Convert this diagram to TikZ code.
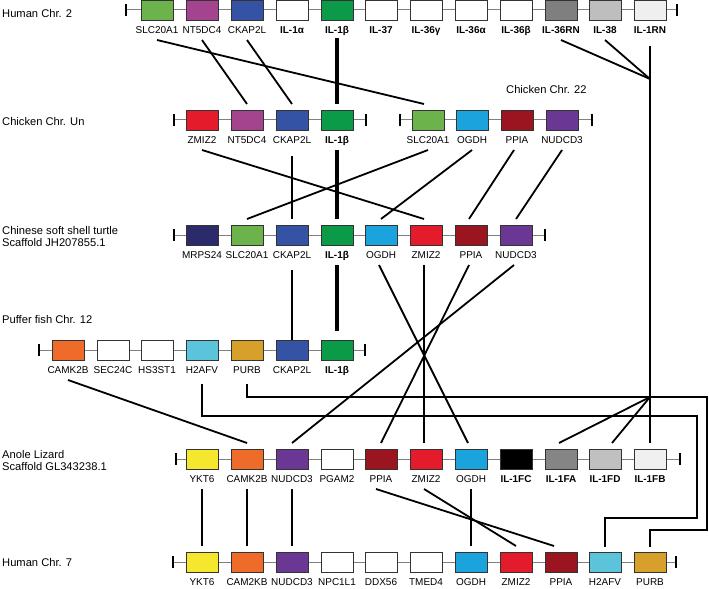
\documentclass[tikz,border=0pt]{standalone}
\usepackage{fontspec}
\setmainfont{Liberation Sans}
\usetikzlibrary{calc}
\definecolor{cslc}{HTML}{6BB34A}
\definecolor{cnt5}{HTML}{A4448E}
\definecolor{cckap}{HTML}{3453A4}
\definecolor{cilb}{HTML}{0A9A48}
\definecolor{crn36}{HTML}{7F7F7F}
\definecolor{cil38}{HTML}{BEBEBE}
\definecolor{crn1}{HTML}{EFEFEF}
\definecolor{czmiz}{HTML}{E31B2B}
\definecolor{cogdh}{HTML}{1BA3DD}
\definecolor{cppia}{HTML}{9B1521}
\definecolor{cnud}{HTML}{6A3795}
\definecolor{cmrps}{HTML}{2B2A6B}
\definecolor{ccamk}{HTML}{EE6B2A}
\definecolor{ch2a}{HTML}{5CC4DA}
\definecolor{cpurb}{HTML}{D6A02A}
\definecolor{cykt}{HTML}{F5E62E}
\definecolor{cfa}{HTML}{858585}
\definecolor{cfd}{HTML}{C0C0C0}
\definecolor{cfb}{HTML}{F0F0F0}
\tikzset{
  gbox/.style={draw=black!80, line width=0.9bp, minimum width=32bp, minimum height=20bp, inner sep=0pt, outer sep=0pt},
  glab/.style={font=\fontsize{10}{12}\selectfont, inner sep=0pt, text height=7pt, text depth=2pt},
  spec/.style={font=\fontsize{11.2}{13}\selectfont, anchor=west, inner sep=0pt, align=left},
  bb/.style={draw=black!50, line width=1bp},
  endbar/.style={draw=black, line width=2bp},
  conn/.style={draw=black, line width=1.8bp},
  ilbline/.style={draw=black, line width=4bp},
}
\newcommand\gn[5]{%
  \node[gbox, fill=#4] (#1) at (#2,#3) {};
  \node[glab] (#1-l) at (#2,#3+21.5) {#5};
  \coordinate (#1-t) at ($(#1.north)+(0,-6)$);
  \coordinate (#1-b) at ($(#1.south)+(0,20)$);
}
\newcommand\chrline[3]{% xl, xr, y
  \draw[bb] (#1,#3) -- (#2,#3);
  \draw[endbar] (#1,#3-6) -- (#1,#3+6);
  \draw[endbar] (#2,#3-6) -- (#2,#3+6);
}
\begin{document}
\begin{tikzpicture}[x=1bp,y=-1bp]
\useasboundingbox (0,0) rectangle (709,589);
% backbones
\chrline{126}{677}{10}
\chrline{174}{366}{120}
\chrline{400}{592}{120}
\chrline{174}{545}{235}
\chrline{39}{365}{350}
\chrline{176}{680}{459}
\chrline{173}{676}{562}
% species labels
\node[spec] (sp1) at (2,14) {Human Chr. 2};
\node[spec] (sp2) at (2,122) {Chicken Chr. Un};
\node[spec] (sp3) at (506,90) {Chicken Chr. 22};
\node[spec] (sp4) at (2,236.5) {Chinese soft shell turtle\\Scaffold JH207855.1};
\node[spec] (sp5) at (2,320) {Puffer fish Chr. 12};
\node[spec] (sp6) at (2,460.5) {Anole Lizard\\Scaffold GL343238.1};
\node[spec] (sp7) at (2,563) {Human Chr. 7};
% Human Chr. 2
\gn{h2slc}{157}{10}{cslc}{SLC20A1}
\gn{h2nt5}{202}{10}{cnt5}{NT5DC4}
\gn{h2ckap}{247}{10}{cckap}{CKAP2L}
\gn{h2ila}{292}{10}{white}{\textbf{IL-1α}}
\gn{h2ilb}{337}{10}{cilb}{\textbf{IL-1β}}
\gn{h2il37}{381}{10}{white}{\textbf{IL-37}}
\gn{h2il36g}{426}{10}{white}{\textbf{IL-36γ}}
\gn{h2il36a}{471}{10}{white}{\textbf{IL-36α}}
\gn{h2il36b}{516}{10}{white}{\textbf{IL-36β}}
\gn{h2il36rn}{561}{10}{crn36}{\textbf{IL-36RN}}
\gn{h2il38}{605}{10}{cil38}{\textbf{IL-38}}
\gn{h2il1rn}{650}{10}{crn1}{\textbf{IL-1RN}}
% Chicken Chr. Un
\gn{cuzmiz}{202}{120}{czmiz}{ZMIZ2}
\gn{cunt5}{247}{120}{cnt5}{NT5DC4}
\gn{cuckap}{292}{120}{cckap}{CKAP2L}
\gn{cuilb}{337}{120}{cilb}{\textbf{IL-1β}}
% Chicken Chr. 22
\gn{ccslc}{428}{120}{cslc}{SLC20A1}
\gn{ccogdh}{472}{120}{cogdh}{OGDH}
\gn{ccppia}{517}{120}{cppia}{PPIA}
\gn{ccnud}{562}{120}{cnud}{NUDCD3}
% Turtle
\gn{tumrps}{202}{235}{cmrps}{MRPS24}
\gn{tuslc}{247}{235}{cslc}{SLC20A1}
\gn{tuckap}{292}{235}{cckap}{CKAP2L}
\gn{tuilb}{337}{235}{cilb}{\textbf{IL-1β}}
\gn{tuogdh}{381}{235}{cogdh}{OGDH}
\gn{tuzmiz}{426}{235}{czmiz}{ZMIZ2}
\gn{tuppia}{471}{235}{cppia}{PPIA}
\gn{tunud}{516}{235}{cnud}{NUDCD3}
% Puffer fish
\gn{pfcamk}{68}{350}{ccamk}{CAMK2B}
\gn{pfsec}{113}{350}{white}{SEC24C}
\gn{pfhs}{157}{350}{white}{HS3ST1}
\gn{pfh2a}{202}{350}{ch2a}{H2AFV}
\gn{pfpurb}{247}{350}{cpurb}{PURB}
\gn{pfckap}{292}{350}{cckap}{CKAP2L}
\gn{pfilb}{337}{350}{cilb}{\textbf{IL-1β}}
% Anole
\gn{anykt}{202}{459}{cykt}{YKT6}
\gn{ancamk}{247}{459}{ccamk}{CAMK2B}
\gn{annud}{292}{459}{cnud}{NUDCD3}
\gn{anpgam}{337}{459}{white}{PGAM2}
\gn{anppia}{381}{459}{cppia}{PPIA}
\gn{anzmiz}{426}{459}{czmiz}{ZMIZ2}
\gn{anogdh}{471}{459}{cogdh}{OGDH}
\gn{anfc}{516}{459}{black}{\textbf{IL-1FC}}
\gn{anfa}{561}{459}{cfa}{\textbf{IL-1FA}}
\gn{anfd}{605}{459}{cfd}{\textbf{IL-1FD}}
\gn{anfb}{650}{459}{cfb}{\textbf{IL-1FB}}
% Human Chr. 7
\gn{hsykt}{202}{562}{cykt}{YKT6}
\gn{hscamk}{247}{562}{ccamk}{CAM2KB}
\gn{hsnud}{292}{562}{cnud}{NUDCD3}
\gn{hsnpc}{337}{562}{white}{NPC1L1}
\gn{hsddx}{381}{562}{white}{DDX56}
\gn{hstmed}{426}{562}{white}{TMED4}
\gn{hsogdh}{471}{562}{cogdh}{OGDH}
\gn{hszmiz}{516}{562}{czmiz}{ZMIZ2}
\gn{hsppia}{561}{562}{cppia}{PPIA}
\gn{hsh2a}{605}{562}{ch2a}{H2AFV}
\gn{hspurb}{650}{562}{cpurb}{PURB}
% junctions and elbows
\coordinate (J1) at (650,79);
\coordinate (J2) at (650,397);
\coordinate (k1) at (697,416);
\coordinate (k2) at (697,518);
\coordinate (k3) at (707,397);
\coordinate (k4) at (707,530);
% Human 2 -> chicken
\draw[conn] (h2slc-b) -- ([xshift=-4bp]ccslc-t);
\draw[conn] (h2nt5-b) -- (cunt5-t);
\draw[conn] (h2ckap-b) -- (cuckap-t);
\draw[ilbline] ([yshift=2bp]h2ilb-b) -- (cuilb-t);
\draw[conn] (h2il36rn-b) -- (J1);
\draw[conn] (h2il38-b) -- (J1);
\draw[conn] ([yshift=-6bp]h2il1rn-b) -- (anfb-t);
\draw[conn] (J2) -- ([xshift=-2bp]anfa-t);
\draw[conn] (J2) -- ([xshift=7bp]anfd-t);
% chicken -> turtle
\draw[conn] (cuzmiz-b) -- ([xshift=-2bp]tuzmiz-t);
\draw[conn] ([yshift=-6bp]cuckap-b) -- (tuckap-t);
\draw[ilbline] (cuilb-b) -- (tuilb-t);
\draw[conn] (ccslc-b) -- (tuslc-t);
\draw[conn] (ccogdh-b) -- (tuogdh-t);
\draw[conn] ([xshift=-3bp]ccppia-b) -- ([xshift=-2bp]tuppia-t);
\draw[conn] (ccnud-b) -- (tunud-t);
% turtle -> puffer / anole
\draw[conn] ([yshift=-5bp]tuckap-b) -- ([yshift=-6bp]pfckap-t);
\draw[ilbline] (tuilb-b) -- ([yshift=3bp]pfilb-t);
\draw[conn] ([xshift=-2bp]tuogdh-b) -- ([xshift=-3bp]anogdh-t);
\draw[conn] ([xshift=-2bp]tuzmiz-b) -- ([xshift=-2bp]anzmiz-t);
\draw[conn] ([xshift=-2bp]tuppia-b) -- (anppia-t);
\draw[conn] ([xshift=-2bp]tunud-b) -- (annud-t);
% puffer -> anole / human 7
\draw[conn] (pfcamk-b) -- (ancamk-t);
\draw[conn] ([yshift=-4bp]pfh2a-b) |- (k1) -- (k2) -| ([yshift=-1bp]hsh2a-t);
\draw[conn] ([yshift=-4bp]pfpurb-b) |- (k3) -- (k4) -| ([yshift=-1bp]hspurb-t);
% anole -> human 7
\draw[conn] (anykt-b) -- (hsykt-t);
\draw[conn] (ancamk-b) -- (hscamk-t);
\draw[conn] (annud-b) -- (hsnud-t);
\draw[conn] (anogdh-b) -- (hsogdh-t);
\draw[conn] ([xshift=-5bp]anppia-b) -- ([xshift=-7bp]hsppia-t);
\draw[conn] ([xshift=-2bp]anzmiz-b) -- (hszmiz-t);
\end{tikzpicture}
\end{document}
